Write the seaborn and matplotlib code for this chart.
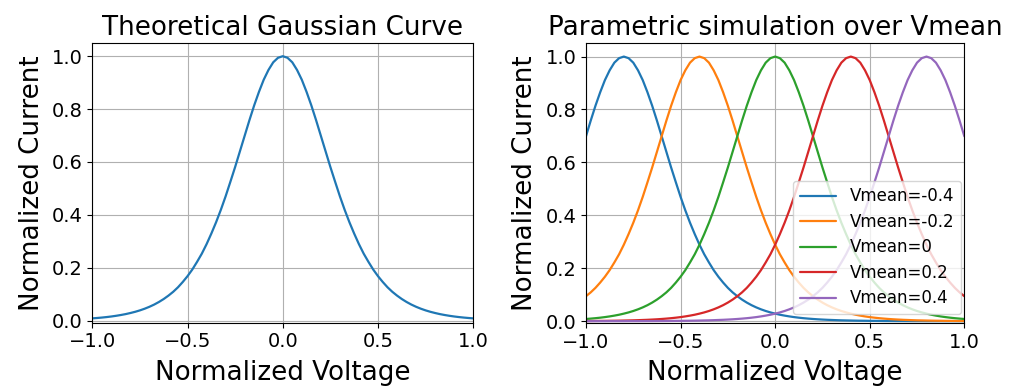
import numpy as np
import pandas as pd
import matplotlib
matplotlib.use("Agg")
import matplotlib.pyplot as plt
import seaborn as sns

# x grid (Normalized Voltage), step 0.025
voltage = [round(-1 + 0.025 * i, 3) for i in range(81)]

# Left panel: theoretical curve values
current_theory = [0.0084, 0.0098, 0.0114, 0.0133, 0.0155, 0.0181, 0.0211, 0.0245, 0.0286, 0.0332,
                  0.0386, 0.0449, 0.0522, 0.0606, 0.0704, 0.0816, 0.0945, 0.109, 0.126, 0.146,
                  0.168, 0.193, 0.222, 0.253, 0.289, 0.329, 0.372, 0.419, 0.470, 0.525,
                  0.581, 0.640, 0.699, 0.758, 0.814, 0.865, 0.911, 0.948, 0.977, 0.994,
                  1.0,
                  0.994, 0.977, 0.948, 0.911, 0.865, 0.814, 0.758, 0.699, 0.640, 0.581,
                  0.525, 0.470, 0.419, 0.372, 0.329, 0.289, 0.253, 0.222, 0.193, 0.168,
                  0.146, 0.126, 0.109, 0.0945, 0.0816, 0.0704, 0.0606, 0.0522, 0.0449, 0.0386,
                  0.0332, 0.0286, 0.0245, 0.0211, 0.0181, 0.0155, 0.0133, 0.0114, 0.0098, 0.0084]

# Right panel: parametric series
series_labels = ["Vmean=-0.4", "Vmean=-0.2", "Vmean=0", "Vmean=0.2", "Vmean=0.4"]
vm_m04 = [0.699, 0.758, 0.814, 0.865, 0.911, 0.948, 0.977, 0.994,
          1.0,
          0.994, 0.977, 0.948, 0.911, 0.865, 0.814, 0.758, 0.699, 0.640, 0.581,
          0.525, 0.470, 0.419, 0.372, 0.329, 0.289, 0.253, 0.222, 0.193, 0.168,
          0.146, 0.126, 0.109, 0.0945, 0.0816, 0.0704, 0.0606, 0.0522, 0.0449, 0.0386,
          0.0332, 0.0286, 0.0245, 0.0211, 0.0181, 0.0155, 0.0133, 0.0114, 0.0098, 0.0084,
          0.0072, 0.0062, 0.0053, 0.0046, 0.0039, 0.0033, 0.0029, 0.0025, 0.0021, 0.0018,
          0.0016, 0.0013, 0.0012, 0.0010, 0.0008, 0.0007, 0.0006, 0.0005, 0.0005, 0.0004,
          0.0003, 0.0003, 0.0003, 0.0002, 0.0002, 0.0002, 0.0002, 0.0001, 0.0001, 0.0001,
          0.0001, 0.0001]
vm_m02 = [0.0945, 0.109, 0.126, 0.146, 0.168, 0.193, 0.222, 0.253, 0.289, 0.329,
          0.372, 0.419, 0.470, 0.525, 0.581, 0.640, 0.699, 0.758, 0.814, 0.865,
          0.911, 0.948, 0.977, 0.994,
          1.0,
          0.994, 0.977, 0.948, 0.911, 0.865, 0.814, 0.758, 0.699, 0.640, 0.581,
          0.525, 0.470, 0.419, 0.372, 0.329, 0.289, 0.253, 0.222, 0.193, 0.168,
          0.146, 0.126, 0.109, 0.0945, 0.0816, 0.0704, 0.0606, 0.0522, 0.0449, 0.0386,
          0.0332, 0.0286, 0.0245, 0.0211, 0.0181, 0.0155, 0.0133, 0.0114, 0.0098, 0.0084,
          0.0072, 0.0062, 0.0053, 0.0046, 0.0039, 0.0033, 0.0029, 0.0025, 0.0021, 0.0018,
          0.0016, 0.0013, 0.0012, 0.0010, 0.0008, 0.0007]
vm_0 = [0.0084, 0.0098, 0.0114, 0.0133, 0.0155, 0.0181, 0.0211, 0.0245, 0.0286, 0.0332,
        0.0386, 0.0449, 0.0522, 0.0606, 0.0704, 0.0816, 0.0945, 0.109, 0.126, 0.146,
        0.168, 0.193, 0.222, 0.253, 0.289, 0.329, 0.372, 0.419, 0.470, 0.525,
        0.581, 0.640, 0.699, 0.758, 0.814, 0.865, 0.911, 0.948, 0.977, 0.994,
        1.0,
        0.994, 0.977, 0.948, 0.911, 0.865, 0.814, 0.758, 0.699, 0.640, 0.581,
        0.525, 0.470, 0.419, 0.372, 0.329, 0.289, 0.253, 0.222, 0.193, 0.168,
        0.146, 0.126, 0.109, 0.0945, 0.0816, 0.0704, 0.0606, 0.0522, 0.0449, 0.0386,
        0.0332, 0.0286, 0.0245, 0.0211, 0.0181, 0.0155, 0.0133, 0.0114, 0.0098, 0.0084]
vm_p02 = [0.0007, 0.0008, 0.0010, 0.0012, 0.0013, 0.0016, 0.0018, 0.0021, 0.0025, 0.0029,
          0.0033, 0.0039, 0.0046, 0.0053, 0.0062, 0.0072,
          0.0084, 0.0098, 0.0114, 0.0133, 0.0155, 0.0181, 0.0211, 0.0245, 0.0286, 0.0332,
          0.0386, 0.0449, 0.0522, 0.0606, 0.0704, 0.0816, 0.0945, 0.109, 0.126, 0.146,
          0.168, 0.193, 0.222, 0.253, 0.289, 0.329, 0.372, 0.419, 0.470, 0.525,
          0.581, 0.640, 0.699, 0.758, 0.814, 0.865, 0.911, 0.948, 0.977, 0.994,
          1.0,
          0.994, 0.977, 0.948, 0.911, 0.865, 0.814, 0.758, 0.699, 0.640, 0.581,
          0.525, 0.470, 0.419, 0.372, 0.329, 0.289, 0.253, 0.222, 0.193, 0.168,
          0.146, 0.126, 0.109, 0.0945]
vm_p04 = [0.0001, 0.0001, 0.0001, 0.0001, 0.0001, 0.0002, 0.0002, 0.0002, 0.0002, 0.0003,
          0.0003, 0.0003, 0.0004, 0.0005, 0.0005, 0.0006, 0.0007, 0.0008, 0.0010, 0.0012,
          0.0013, 0.0016, 0.0018, 0.0021, 0.0025, 0.0029, 0.0033, 0.0039, 0.0046, 0.0053,
          0.0062, 0.0072,
          0.0084, 0.0098, 0.0114, 0.0133, 0.0155, 0.0181, 0.0211, 0.0245, 0.0286, 0.0332,
          0.0386, 0.0449, 0.0522, 0.0606, 0.0704, 0.0816, 0.0945, 0.109, 0.126, 0.146,
          0.168, 0.193, 0.222, 0.253, 0.289, 0.329, 0.372, 0.419, 0.470, 0.525,
          0.581, 0.640, 0.699, 0.758, 0.814, 0.865, 0.911, 0.948, 0.977, 0.994,
          1.0,
          0.994, 0.977, 0.948, 0.911, 0.865, 0.814, 0.758, 0.699]

sns.set_style("ticks", {"axes.grid": True, "grid.color": "#b0b0b0",
                        "axes.edgecolor": "black", "xtick.direction": "out",
                        "ytick.direction": "out", "text.color": "black",
                        "axes.labelcolor": "black", "xtick.color": "black",
                        "ytick.color": "black"})
plt.rcParams["font.family"] = ["DejaVu Sans"]
plt.rcParams["grid.linewidth"] = 0.8
plt.rcParams["xtick.major.size"] = 3.5
plt.rcParams["ytick.major.size"] = 3.5

fig = plt.figure(figsize=(10.14, 3.88), dpi=100)
ax1 = fig.add_axes([0.0910, 0.1683, 0.3757, 0.7209])
ax2 = fig.add_axes([0.5779, 0.1667, 0.3731, 0.7216])

palette = sns.color_palette("tab10", 5)

df1 = pd.DataFrame({"Normalized Voltage": voltage, "Normalized Current": current_theory})
sns.lineplot(data=df1, x="Normalized Voltage", y="Normalized Current", ax=ax1,
             color=palette[0], linewidth=1.6)

rows = []
for lab, vals in zip(series_labels, [vm_m04, vm_m02, vm_0, vm_p02, vm_p04]):
    for xv, yv in zip(voltage, vals):
        rows.append({"Normalized Voltage": xv, "Normalized Current": yv, "series": lab})
df2 = pd.DataFrame(rows)
sns.lineplot(data=df2, x="Normalized Voltage", y="Normalized Current", hue="series",
             palette=palette, ax=ax2, linewidth=1.6)

for ax, title in [(ax1, "Theoretical Gaussian Curve"), (ax2, "Parametric simulation over Vmean")]:
    ax.set_xlim(-1, 1)
    ax.set_ylim(-0.008, 1.05)
    ax.set_xticks([-1.0, -0.5, 0.0, 0.5, 1.0])
    ax.set_yticks([0.0, 0.2, 0.4, 0.6, 0.8, 1.0])
    ax.set_xticklabels(["\u22121.0", "\u22120.5", "0.0", "0.5", "1.0"])
    ax.set_yticklabels(["0.0", "0.2", "0.4", "0.6", "0.8", "1.0"])
    ax.tick_params(labelsize=14, color="black", labelcolor="black", width=0.8)
    ax.set_title(title, fontsize=18.8, pad=6, color="black")
    ax.set_xlabel("Normalized Voltage", fontsize=18.8, labelpad=6, color="black")
    ax.set_ylabel("Normalized Current", fontsize=18.8, labelpad=5, color="black")
    for s in ax.spines.values():
        s.set_color("black")
        s.set_linewidth(0.8)

leg = ax2.legend(loc="lower right", bbox_to_anchor=(0.991, 0.033), borderaxespad=0,
                 fontsize=12, framealpha=0.8, fancybox=True,
                 labelspacing=0.45, handlelength=2.2)
leg.set_title(None)
for t in leg.get_texts():
    t.set_color("black")

fig.savefig("out.png", dpi=100)
